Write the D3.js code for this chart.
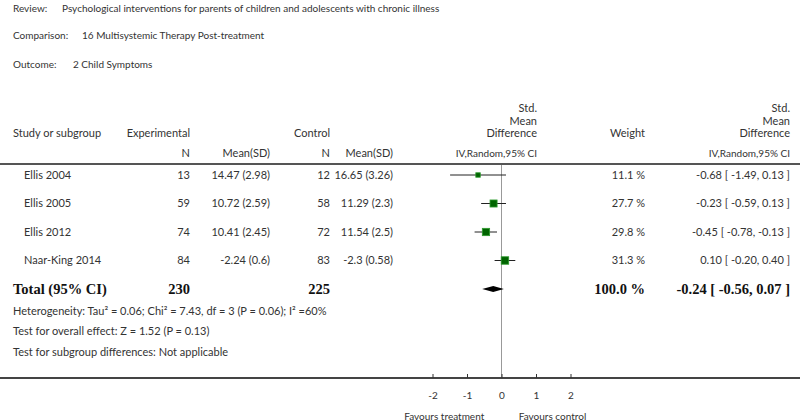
<!DOCTYPE html>
<html>
<head>
<meta charset="utf-8">
<script src="https://cdn.jsdelivr.net/npm/d3@7"></script>
<style>
  html, body { margin: 0; padding: 0; background: #fff; }
  svg { display: block; }
</style>
</head>
<body>
<div id="chart"></div>
<script>
// data
const studies = ['Ellis 2004', 'Ellis 2005', 'Ellis 2012', 'Naar-King 2014'];
const expN = [13, 59, 74, 84];
const expMeanSD = ['14.47 (2.98)', '10.72 (2.59)', '10.41 (2.45)', '-2.24 (0.6)'];
const ctrlN = [12, 58, 72, 83];
const ctrlMeanSD = ['16.65 (3.26)', '11.29 (2.3)', '11.54 (2.5)', '-2.3 (0.58)'];
const smd = [-0.68, -0.23, -0.45, 0.10];
const ciLow = [-1.49, -0.59, -0.78, -0.20];
const ciHigh = [0.13, 0.13, -0.13, 0.40];
const weights = [11.1, 27.7, 29.8, 31.3];
const ciText = ['-0.68 [ -1.49, 0.13 ]', '-0.23 [ -0.59, 0.13 ]', '-0.45 [ -0.78, -0.13 ]', '0.10 [ -0.20, 0.40 ]'];

const total = { label: 'Total (95% CI)', expN: 230, ctrlN: 225, weight: '100.0 %', smd: -0.24, lo: -0.56, hi: 0.07, text: '-0.24 [ -0.56, 0.07 ]' };
const notes = [
  'Heterogeneity: Tau² = 0.06; Chi² = 7.43, df = 3 (P = 0.06); I² =60%',
  'Test for overall effect: Z = 1.52 (P = 0.13)',
  'Test for subgroup differences: Not applicable',
];
const axisTicks = [-2, -1, 0, 1, 2];

const width = 800;
const height = 420;
const sans = 'Lato, "Open Sans", sans-serif';
const serif = '"Liberation Serif", "DejaVu Serif", serif';
const textColor = '#333';

const svg = d3.select('#chart').append('svg')
  .attr('width', width)
  .attr('height', height)
  .attr('font-family', sans)
  .attr('font-size', 11)
  .attr('fill', textColor);

// titles
const titles = [
  ['Review:', 'Psychological interventions for parents of children and adolescents with chronic illness', 62, 8],
  ['Comparison:', '16 Multisystemic Therapy Post-treatment', 82, 35],
  ['Outcome:', '2 Child Symptoms', 73, 64],
];
const titleG = svg.append('g').attr('font-size', 10);
titles.forEach(([k, v, vx, y]) => {
  titleG.append('text').attr('x', 13).attr('y', y).attr('dy', '0.35em').text(k);
  titleG.append('text').attr('x', vx).attr('y', y).attr('dy', '0.35em').text(v);
});

// column positions (right edges)
const col = { study: 13, rowStudy: 24, expN: 190, expMean: 270, ctrlN: 330, ctrlMean: 393, ci: 537, weight: 645, ciText: 790 };

const header = svg.append('g').attr('text-anchor', 'end');
header.append('text').attr('x', col.study).attr('y', 133).attr('dy', '0.35em').attr('text-anchor', 'start').text('Study or subgroup');
header.append('text').attr('x', col.expN).attr('y', 133).attr('dy', '0.35em').text('Experimental');
header.append('text').attr('x', col.ctrlN).attr('y', 133).attr('dy', '0.35em').text('Control');
[['Std.', 108], ['Mean', 121], ['Difference', 133]].forEach(([t, y]) => {
  header.append('text').attr('x', col.ci).attr('y', y).attr('dy', '0.35em').text(t);
  header.append('text').attr('x', col.ciText).attr('y', y).attr('dy', '0.35em').text(t);
});
header.append('text').attr('x', col.weight).attr('y', 133).attr('dy', '0.35em').text('Weight');
header.append('text').attr('x', col.expN).attr('y', 153).attr('dy', '0.35em').text('N');
header.append('text').attr('x', col.expMean).attr('y', 153).attr('dy', '0.35em').text('Mean(SD)');
header.append('text').attr('x', col.ctrlN).attr('y', 153).attr('dy', '0.35em').text('N');
header.append('text').attr('x', col.ctrlMean).attr('y', 153).attr('dy', '0.35em').text('Mean(SD)');
header.append('text').attr('x', col.ci).attr('y', 153).attr('dy', '0.35em').attr('font-size', 10).text('IV,Random,95% CI');
header.append('text').attr('x', col.ciText).attr('y', 153).attr('dy', '0.35em').attr('font-size', 10).text('IV,Random,95% CI');

svg.append('line')
  .attr('x1', 0).attr('x2', width)
  .attr('y1', 164).attr('y2', 164)
  .attr('stroke', '#555').attr('stroke-width', 2);

// scales
const x = d3.scaleLinear().domain([-2, 2]).range([432.5, 570.5]);
const y = d3.scaleLinear().domain([0, 3]).range([175, 260.5]);
const side = d3.scaleSqrt().domain([0, 31.3]).range([0, 7.5]);
const axisY = 378;

// zero line
svg.append('line')
  .attr('x1', x(0)).attr('x2', x(0))
  .attr('y1', 165).attr('y2', axisY)
  .attr('stroke', '#999').attr('stroke-width', 1);

// study rows
const rows = svg.append('g')
  .selectAll('g')
  .data(studies)
  .join('g')
  .attr('transform', (d, i) => `translate(0,${y(i)})`);

rows.append('text').attr('x', col.rowStudy).attr('dy', '0.35em').text((d) => d);
rows.append('text').attr('x', col.expN).attr('dy', '0.35em').attr('text-anchor', 'end').text((d, i) => expN[i]);
rows.append('text').attr('x', col.expMean).attr('dy', '0.35em').attr('text-anchor', 'end').text((d, i) => expMeanSD[i]);
rows.append('text').attr('x', col.ctrlN).attr('dy', '0.35em').attr('text-anchor', 'end').text((d, i) => ctrlN[i]);
rows.append('text').attr('x', col.ctrlMean).attr('dy', '0.35em').attr('text-anchor', 'end').text((d, i) => ctrlMeanSD[i]);
rows.append('text').attr('x', col.weight).attr('dy', '0.35em').attr('text-anchor', 'end').text((d, i) => `${weights[i]} %`);
rows.append('text').attr('x', col.ciText).attr('dy', '0.35em').attr('text-anchor', 'end').text((d, i) => ciText[i]);

rows.append('line')
  .attr('x1', (d, i) => x(ciLow[i]))
  .attr('x2', (d, i) => x(ciHigh[i]))
  .attr('stroke', '#222')
  .attr('stroke-width', 1);

rows.append('rect')
  .attr('x', (d, i) => x(smd[i]) - side(weights[i]) / 2)
  .attr('y', (d, i) => -side(weights[i]) / 2)
  .attr('width', (d, i) => side(weights[i]))
  .attr('height', (d, i) => side(weights[i]))
  .attr('fill', '#006400')
  .attr('stroke', '#2e9b2e')
  .attr('stroke-width', 0.8);

// total row
const totalY = 289;
const tot = svg.append('g')
  .attr('transform', `translate(0,${totalY})`)
  .attr('font-family', serif)
  .attr('font-weight', 'bold')
  .attr('font-size', 14.5)
  .attr('fill', '#111');
tot.append('text').attr('x', col.study).attr('dy', '0.35em').text(total.label);
tot.append('text').attr('x', col.expN).attr('dy', '0.35em').attr('text-anchor', 'end').text(total.expN);
tot.append('text').attr('x', col.ctrlN).attr('dy', '0.35em').attr('text-anchor', 'end').text(total.ctrlN);
tot.append('text').attr('x', col.weight).attr('dy', '0.35em').attr('text-anchor', 'end').text(total.weight);
tot.append('text').attr('x', col.ciText).attr('dy', '0.35em').attr('text-anchor', 'end').text(total.text);
tot.append('path')
  .attr('d', `M${x(total.lo)},0L${x(total.smd)},-3L${x(total.hi)},0L${x(total.smd)},3Z`)
  .attr('fill', '#000');

// notes
svg.append('g')
  .selectAll('text')
  .data(notes)
  .join('text')
  .attr('x', col.study)
  .attr('y', (d, i) => 311 + i * 20.5)
  .attr('dy', '0.35em')
  .text((d) => d);

// bottom axis
svg.append('line')
  .attr('x1', 0).attr('x2', width)
  .attr('y1', axisY).attr('y2', axisY)
  .attr('stroke', '#444').attr('stroke-width', 2);

const axis = svg.append('g')
  .attr('transform', `translate(0,${axisY})`)
  .call(d3.axisBottom(x).tickValues(axisTicks).tickSize(-4).tickPadding(14).tickFormat(d3.format('d')));
axis.select('.domain').remove();
axis.selectAll('.tick line').attr('stroke', '#333');
axis.selectAll('.tick text')
  .attr('fill', textColor)
  .attr('font-family', sans)
  .attr('font-size', 10)
  .text((d) => (d < 0 ? `-${Math.abs(d)}` : d));

svg.append('text')
  .attr('x', x(-0.5)).attr('y', 416).attr('dy', '0.35em')
  .attr('text-anchor', 'end').attr('font-size', 10)
  .text('Favours treatment');
svg.append('text')
  .attr('x', x(0.5)).attr('y', 416).attr('dy', '0.35em')
  .attr('font-size', 10)
  .text('Favours control');
</script>
</body>
</html>
